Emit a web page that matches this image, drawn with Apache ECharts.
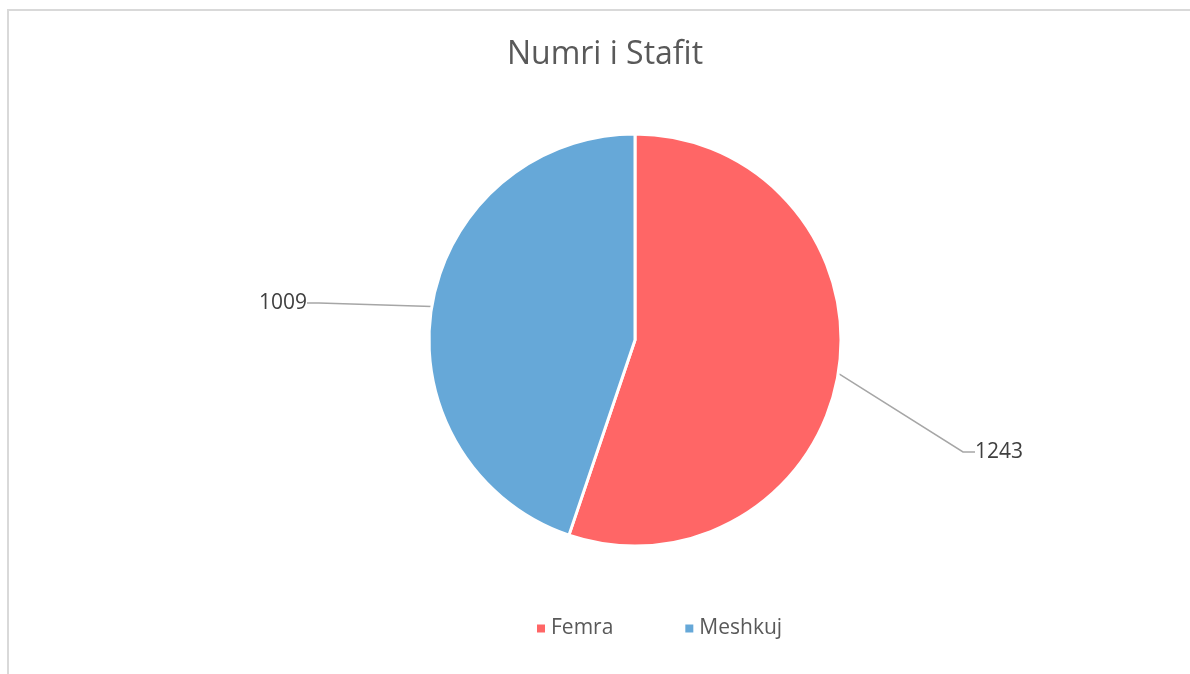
<!DOCTYPE html>
<html>
<head>
<meta charset="utf-8">
<script src="https://cdn.jsdelivr.net/npm/echarts@6/dist/echarts.min.js"></script>
<style>
  html, body { margin: 0; padding: 0; background: #fff; }
  #frame { position: absolute; left: 7px; top: 9px; width: 1300px; height: 800px;
           border-left: 2px solid #d9d9d9; border-top: 2px solid #d9d9d9; }
  #main { position: absolute; left: 0; top: 0; width: 1190px; height: 674px; }
</style>
</head>
<body>
<div id="frame"></div>
<div id="main"></div>
<script>
// data
var categories = ['Femra', 'Meshkuj'];
var values = [1243, 1009];
var colors = ['#FF6666', '#66A8D8'];

document.addEventListener("DOMContentLoaded", function() {
    var chart = echarts.init(document.getElementById('main'));

    var pieData = categories.map(function(name, i) {
        return { name: name, value: values[i], itemStyle: { color: colors[i] } };
    });

    // label spots: right of the pie for Femra, left for Meshkuj
    var labelSpots = [
        { x: 969, y: 452, align: 'left' },
        { x: 313, y: 303, align: 'right' }
    ];

    var option = {
        animation: false,
        title: {
            text: 'Numri i Stafit',
            left: 600,
            top: 34,
            textAlign: 'center',
            textStyle: {
                fontFamily: 'Open Sans',
                fontSize: 32,
                fontWeight: 'normal',
                color: '#595959'
            }
        },
        legend: {
            left: 530,
            top: 613,
            icon: 'rect',
            itemWidth: 10,
            itemHeight: 10,
            itemGap: 70,
            textStyle: {
                fontFamily: 'Open Sans',
                fontSize: 21,
                color: '#595959'
            },
            data: categories
        },
        series: [
            {
                name: 'Stafi',
                type: 'pie',
                center: [635, 340],
                radius: 206,
                startAngle: 90,
                clockwise: true,
                itemStyle: {
                    borderColor: '#ffffff',
                    borderWidth: 3
                },
                label: {
                    show: true,
                    formatter: '{c}',
                    fontFamily: 'Open Sans',
                    fontSize: 21,
                    color: '#404040',
                    padding: [0, 6]
                },
                labelLine: {
                    show: true,
                    length: 20,
                    length2: 12,
                    lineStyle: { color: '#a6a6a6', width: 1.5 }
                },
                labelLayout: function(params) {
                    var s = labelSpots[params.dataIndex];
                    return { x: s.x, y: s.y, align: s.align, verticalAlign: 'middle' };
                },
                emphasis: { disabled: true },
                data: pieData
            }
        ]
    };
    chart.setOption(option);

    window.addEventListener('resize', function() {
        chart.resize();
    });
});
</script>
</body>
</html>
